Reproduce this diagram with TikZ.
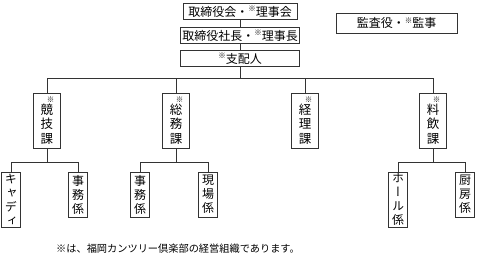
\documentclass[tikz,border=0pt]{standalone}
\usepackage{fontspec}
\setmainfont{Noto Sans CJK JP}
\newfontfamily\tatefont[RawFeature=+vert]{Noto Sans CJK JP}
\usetikzlibrary{positioning}
\newcommand{\kome}{\raisebox{0.35em}{\fontsize{7.5}{8}\selectfont ※}}
\newcommand{\komev}{{\hspace*{7pt}\fontsize{7.5}{8}\selectfont ※}}

\begin{document}
\begin{tikzpicture}[
    x=1pt, y=-1pt,
    yoko/.style={draw=black!80, line width=0.8pt, inner sep=0pt, minimum height=16, font=\fontsize{12}{14}\selectfont},
    ka/.style={draw=black!80, line width=0.8pt, inner sep=0pt, minimum width=27, minimum height=55, align=center, font=\tatefont\fontsize{12.5}{14.5}\selectfont},
    kakari/.style={draw=black!80, line width=0.8pt, inner sep=0pt, minimum width=19, align=center, font=\tatefont\fontsize{12}{14}\selectfont},
    sen/.style={draw=black!80, line width=0.8pt}
]
\useasboundingbox (0,0) rectangle (480,256);
% top
\node[yoko, minimum width=114] (torishimari) at (240,11.5) {取締役会・\kome 理事会};
\node[yoko, minimum width=119] (shacho) at (240,35.5) {取締役社長・\kome 理事長};
\node[yoko, minimum width=119] (shihai) at (240,58.5) {\kome 支配人};
\node[yoko, minimum width=121, minimum height=20] (kansa) at (396.5,23) {監査役・\kome 監事};
% ka
\node[ka] (kyogi) at (47,120.5) {\komev\\[-3pt]競\\技\\課};
\node[ka] (somu) at (176,120.5) {\komev\\[-3pt]総\\務\\課};
\node[ka] (keiri) at (305,120.5) {\komev\\[-3pt]経\\理\\課};
\node[ka] (ryoin) at (433,120.5) {\komev\\[-3pt]料\\飲\\課};
% kakari
\node[kakari, minimum height=55] (caddy) at (11,199.5) {キ\\ャ\\デ\\ィ};
\node[kakari, minimum height=45] (jimu1) at (78,194.5) {事\\務\\係};
\node[kakari, minimum height=45] (jimu2) at (140,194.5) {事\\務\\係};
\node[kakari, minimum height=45] (genba) at (208,194.5) {現\\場\\係};
\node[kakari, minimum height=55] (hall) at (398,199.5) {ホ\\ー\\ル\\係};
\node[kakari, minimum height=45] (chubo) at (465,194.5) {厨\\房\\係};
\node[font=\fontsize{10.2}{12}\selectfont] (chuki) at (178,249) {※は、福岡カンツリー倶楽部の経営組織であります。};
% lines
\draw[sen] (torishimari) -- (shacho);
\draw[sen] (shacho) -- (shihai);
\draw[sen] (shihai.south) -- ++(0,11.5) coordinate (bunki);
\draw[sen] (kyogi.north) |- (bunki) -| (ryoin.north);
\draw[sen] (somu.north) -- (somu.north |- bunki);
\draw[sen] (keiri.north) -- (keiri.north |- bunki);
\draw[sen] (kyogi.south) -- ++(0,14) coordinate (kyogi-b);
\draw[sen] (caddy.north) |- (kyogi-b) -| (jimu1.north);
\draw[sen] (somu.south) -- ++(0,14) coordinate (somu-b);
\draw[sen] (jimu2.north) |- (somu-b) -| (genba.north);
\draw[sen] (ryoin.south) -- ++(0,14) coordinate (ryoin-b);
\draw[sen] (hall.north) |- (ryoin-b) -| (chubo.north);
\end{tikzpicture}
\end{document}
